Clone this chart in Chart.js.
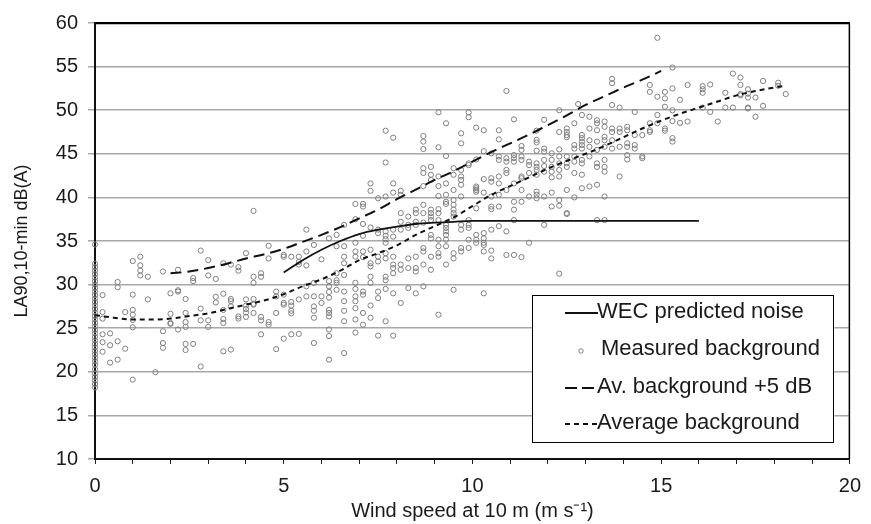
<!DOCTYPE html>
<html><head><meta charset="utf-8">
<script src="https://cdn.jsdelivr.net/npm/chart.js@4.4.1/dist/chart.umd.min.js"></script>
<style>html,body{margin:0;padding:0;background:#fff}canvas{display:block}</style>
</head><body>
<canvas id="c" width="871" height="524"></canvas>
<script>
// ---------- data ----------
const wecWind  = [5, 5.25, 5.5, 6, 6.5, 7, 7.5, 8, 8.5, 9, 9.5, 10, 11, 12, 13, 14, 15, 16];
const wecLevel = [31.4, 32.1, 32.8, 34.0, 35.0, 35.8, 36.3, 36.65, 36.95, 37.1, 37.2, 37.3, 37.3, 37.3, 37.3, 37.3, 37.3, 37.3];

const plus5Wind  = [2, 2.5, 3, 3.5, 4, 4.5, 5, 5.5, 6, 6.5, 7, 7.5, 8, 8.5, 9, 9.5, 10, 10.5, 11, 11.5, 12, 12.5, 13, 13.5, 14, 14.5, 15];
const plus5Level = [31.3, 31.5, 31.9, 32.4, 33.0, 33.5, 34.1, 34.9, 35.7, 36.6, 37.6, 38.6, 39.8, 40.9, 42.0, 43.0, 44.1, 45.2, 46.2, 47.2, 48.3, 49.4, 50.6, 51.6, 52.6, 53.5, 54.5];

const avgWind  = [0, 0.5, 1, 1.5, 2, 2.5, 3, 3.5, 4, 4.5, 5, 5.5, 6, 6.5, 7, 7.5, 8, 8.5, 9, 9.5, 10, 10.5, 11, 11.5, 12, 12.5, 13, 13.5, 14, 14.5, 15, 15.5, 16, 16.5, 17, 17.5, 18, 18.3];
const avgLevel = [26.5, 26.2, 26.0, 26.0, 26.1, 26.4, 26.7, 27.2, 27.7, 28.2, 28.9, 29.8, 30.6, 31.6, 32.8, 33.6, 34.5, 35.7, 36.7, 37.7, 39.0, 40.3, 41.3, 42.3, 43.3, 44.2, 45.0, 45.9, 46.9, 47.9, 48.8, 49.6, 50.3, 51.0, 51.7, 52.2, 52.6, 52.8];

// measured background: [wind speed, LA90]
const measured = [
[0,18.2],[0,18.6],[0,19.0],[0,19.4],[0,19.8],[0,20.3],[0,20.8],[0,21.2],[0,21.6],[0,22.0],[0,22.4],[0,22.8],[0,23.2],[0,23.6],[0,24.0],[0,24.4],[0,24.8],[0,25.2],[0,25.6],[0,26.0],[0,26.4],[0,26.8],[0,27.2],[0,27.6],[0,28.0],[0,28.4],[0,28.8],[0,29.2],[0,29.6],[0,30.0],[0,30.4],[0,30.8],[0,31.2],[0,31.6],[0,32.0],[0,32.4],[0,34.6],
[1.0,32.7],[1.2,33.2],[1.2,32.2],[1.2,31.6],[1.2,31.05],[1.4,30.9],[0.6,30.3],[0.6,29.7],[0.2,28.8],[1.0,28.85],[1.4,28.3],[1.8,31.5],[2.2,31.7],[2.6,30.75],[2.6,30.4],[2.0,29.0],[2.2,29.35],[2.4,28.35],[0.2,26.85],[0.2,26.1],[0.8,26.85],[1.0,27.1],[1.0,26.55],[1.0,25.95],[1.0,25.1],[0.2,24.3],[0.4,24.4],[0.2,23.4],[0.4,23.05],[0.6,23.5],[0.8,22.65],[0.2,22.3],[0.4,21.05],[0.6,21.4],[1.0,19.1],[1.6,19.95],[1.8,24.65],[1.8,23.3],[1.8,22.75],[2.0,26.65],[2.0,25.5],[2.2,24.85],[2.4,26.75],[2.4,25.7],[2.4,25.15],[2.4,23.2],[2.4,22.5],[2.6,23.2],
[2.8,27.25],[2.8,25.9],[2.8,20.6],[3.0,25.9],[3.0,25.15],[3.2,27.95],[3.4,27.1],[3.4,26.05],[3.4,25.6],[3.4,22.35],[3.6,28.1],[3.6,27.5],[3.6,22.55],[3.8,26.35],[3.8,26.1],[4.0,28.3],[4.0,27.6],[4.0,27.2],[4.0,26.8],[4.0,26.3],[4.2,27.8],[4.2,26.75],[4.4,26.3],[4.4,25.9],[4.4,24.3],[4.6,25.7],[4.6,25.4],[4.8,26.75],[4.8,22.6],[5.0,27.7],[5.0,23.8],[5.2,28.0],[5.2,27.6],[5.2,27.0],[5.2,26.7],[5.2,24.3],
[3.0,32.8],[3.0,31.05],[3.2,30.65],[3.4,32.45],[3.6,32.3],[3.8,32.0],[3.8,31.6],[4.0,33.6],[4.2,30.9],[4.2,30.2],[4.4,31.3],[4.4,30.9],[4.6,33.0],[5.0,33.2],[5.0,33.4],[5.2,33.2],[5.4,33.2],[5.4,32.6],[5.4,32.3],[5.6,33.8],[5.6,32.2],[6.0,32.9],[2.8,33.9],
[2.2,29.2],[2.0,25.6],[3.2,28.6],[3.4,28.95],[3.6,28.35],[4.2,28.35],[4.2,27.7],[4.8,29.2],[4.8,28.65],[5.0,28.85],[5.0,27.9],[5.4,28.3],[5.4,24.35],[5.6,29.8],[5.6,28.65],
[5.8,30.2],[5.8,28.65],[5.8,27.5],[5.8,27.0],[5.8,26.2],[5.8,23.3],[6.0,28.65],[6.0,27.9],
[6.2,30.4],[6.2,29.8],[6.2,29.15],[6.2,28.5],[6.2,27.1],[6.2,26.75],[6.2,26.35],[6.2,24.85],[6.2,24.1],[6.2,21.4],
[6.4,31.3],[6.4,30.5],[6.4,30.2],[6.4,29.4],
[6.6,33.2],[6.6,32.45],[6.6,31.1],[6.6,29.2],[6.6,28.1],[6.6,27.0],[6.6,25.8],[6.6,22.15],
[6.9,30.2],[6.9,29.5],[6.9,28.65],[6.9,28.1],[6.9,27.3],[6.9,26.0],[6.9,24.5],
[7.1,29.2],[7.1,28.85],[7.1,26.75],[7.1,25.4],
[7.3,30.9],[7.3,30.2],[7.3,27.6],[7.3,26.2],
[7.5,29.2],[7.5,28.45],[7.5,24.15],
[7.7,30.9],[7.7,30.5],[7.7,29.5],[7.7,25.8],
[7.9,29.0],[7.9,24.15],
[4.2,38.45],[4.6,34.45],[5.6,36.3],[5.8,34.55],[6.2,35.3],[6.4,35.7],[6.4,34.4],[6.6,34.4],[6.9,34.8],[7.1,35.6],[7.3,34.0],
[7.3,41.6],[7.3,40.75],[6.9,39.25],[7.1,39.25],[7.1,38.95],[6.6,36.85],[6.9,37.5],[7.1,36.95],[7.3,36.55],[7.5,36.3],[7.5,35.9],[7.7,36.1],[7.7,35.6],[7.7,35.2],[7.7,34.8],[7.9,36.3],[7.9,35.5],
[6.9,33.8],[6.9,33.2],[7.1,33.8],[7.1,33.15],[7.3,32.45],[7.3,32.1],[7.5,33.2],[7.5,32.65],[7.7,33.6],[7.7,33.0],[7.9,33.2],[7.9,32.3],[7.9,31.9],[7.9,31.3],
[8.1,38.2],[8.1,37.2],[8.1,36.3],[8.3,37.8],[8.3,36.85],[8.3,36.5],[8.5,38.6],[8.5,38.2],[8.5,37.2],[8.5,36.85],[8.7,38.2],[8.7,37.1],[8.9,38.6],[8.9,38.2],[8.9,37.8],[8.9,37.4],[9.1,38.2],[9.1,37.4],[9.3,36.85],[9.3,36.5],[9.3,36.1],[9.3,35.7],[9.5,38.6],[9.5,38.2],[9.5,37.8],[9.7,36.85],[9.7,36.3],[9.9,37.4],[9.9,36.85],[9.9,36.5],[10.1,35.7],[10.1,35.15],[10.3,35.9],[10.3,35.3],[10.3,34.8],[10.5,38.95],[10.5,36.3],[10.5,33.9],[10.7,36.7],[10.9,36.1],[11.1,38.6],[11.1,37.4],[11.5,34.8],[11.9,36.85],[12.3,31.25],[12.5,38.2],
[8.1,32.3],[8.1,31.7],[8.3,33.0],[8.3,31.9],[8.5,33.2],[8.5,31.9],[8.5,31.5],[8.7,34.2],[8.7,33.8],[8.7,32.3],[8.7,29.8],[8.9,35.7],[8.9,35.3],[8.9,33.2],[8.9,31.7],[9.1,35.15],[9.1,34.4],[9.1,33.6],[9.1,33.2],[9.1,26.55],[9.3,35.15],[9.3,34.4],[9.3,32.3],[9.5,33.6],[9.5,33.0],[9.5,29.4],[9.7,34.2],[9.7,33.8],[9.9,35.15],[9.9,34.2],[10.1,34.8],[10.3,34.55],[10.3,33.8],[10.3,29.0],[10.5,33.0],[10.9,33.4],[11.1,33.4],[11.3,33.15],
[8.1,27.9],[8.3,29.6],[8.5,29.0],
[10.9,52.2],[9.1,49.75],[9.9,49.75],[9.9,49.2],[12.3,50.0],[9.3,48.5],[7.7,47.65],[7.9,46.85],[7.7,44.0],[8.7,47.05],[8.7,46.4],[8.7,45.55],[9.1,45.75],[9.3,44.75],[9.7,47.35],[9.7,46.2],[10.1,48.0],[10.3,47.7],[10.7,47.7],[10.7,46.65],[11.1,48.95],[11.9,48.9],[11.7,47.65],[11.7,46.6],[11.7,46.3],[12.3,47.5],[12.5,47.9],[12.5,47.5],[12.5,47.15],[12.5,46.9],[12.7,46.0],[12.7,45.6],[11.3,45.9],[11.3,45.45],[10.3,45.3],[10.5,45.05],[10.7,44.7],[10.7,44.3],[10.9,44.5],[10.9,44.1],[11.1,44.85],[11.1,44.5],[11.1,44.1],[11.3,44.7],[11.3,44.3],[11.5,44.1],[11.5,43.7],[11.5,42.8],[11.7,45.35],[11.7,43.9],[11.7,43.5],[11.7,43.15],[11.7,42.6],[11.9,45.6],[11.9,45.25],[11.9,44.3],[11.9,43.6],[11.9,42.95],[12.1,45.05],[12.1,44.3],[12.1,43.5],[12.1,42.95],[12.1,42.3],[12.3,45.5],[12.3,44.7],[12.3,43.9],[12.3,43.15],[12.3,42.4],[12.5,44.7],[12.5,43.9],[12.5,43.5],[12.7,42.8],
[9.9,43.9],[9.9,43.7],[9.7,43.15],[9.7,42.4],[9.7,42.0],[9.7,41.45],[10.1,44.35],[10.5,41.8],[10.5,42.2],[10.9,43.15],[10.9,42.8],[11.3,42.4],[11.3,42.2],[11.1,41.6],[10.3,42.1],[10.1,41.25],[10.1,41.05],[10.1,40.85],[10.1,40.65],[10.7,42.4],[10.7,41.6],[9.5,43.35],[9.5,42.6],[9.5,40.85],[9.3,41.6],[9.3,40.3],[9.1,42.4],[9.1,41.3],[9.1,40.15],[8.9,43.5],[8.9,42.6],[8.9,42.0],[8.7,43.35],[8.7,42.8],[8.7,41.3],[7.9,41.6],[7.9,40.55],[8.1,40.75],[8.1,40.3],[7.7,40.1],[7.5,39.9],
[10.3,40.55],[10.5,40.1],[10.7,40.3],[10.9,40.85],[11.1,39.5],[11.3,40.85],[11.5,40.1],[11.7,40.65],[11.7,40.3],[11.7,39.9],[11.9,40.1],[12.1,40.55],[12.3,39.7],[12.5,40.85],[12.7,40.0],[9.5,39.7],[9.5,39.15],[9.3,39.5],[9.3,39.25],[8.7,39.15],[9.1,38.65],[9.7,40.1],[10.1,38.75],[10.5,38.65],[10.7,38.95],[11.3,39.5],[12.1,38.95],[12.3,39.05],
[12.7,48.5],[12.7,44.7],[12.7,44.1],
[15.3,54.9],[16.9,54.2],[17.1,53.75],[17.3,52.4],[17.3,51.9],[14.7,52.9],[14.7,52.1],[14.9,51.55],[15.1,52.1],[15.1,51.35],[15.1,50.4],[15.3,52.5],[15.3,50.0],[15.3,48.75],[15.5,51.2],[15.5,48.55],[15.7,52.9],[15.7,48.7],[16.1,52.75],[16.1,52.4],[16.1,52.0],[16.1,50.3],[16.3,52.95],[16.3,49.8],[16.5,48.7],[16.7,52.0],[16.7,50.3],[16.9,50.3],[17.1,51.85],[17.3,50.3],
[12.8,50.7],[13.7,53.6],[13.7,53.1],[13.7,50.6],[13.9,50.3],[14.3,49.8],[14.7,48.5],[14.7,47.7],[14.7,47.5],[14.9,49.45],[14.9,48.5],[15.1,47.9],[15.1,47.65],[15.3,46.8],[15.3,46.4],
[12.9,49.45],[12.9,47.15],[12.9,46.8],[12.9,46.4],[12.9,46.0],[12.9,45.6],[12.9,44.3],[12.9,43.9],[12.9,42.6],[12.9,41.05],
[13.1,49.25],[13.1,47.9],[13.1,46.55],[13.1,45.8],[13.1,44.7],[13.1,41.25],
[13.3,48.85],[13.3,48.5],[13.3,47.7],[13.3,46.4],[13.3,45.45],[13.3,43.9],[13.3,43.5],[13.3,41.45],
[13.5,48.7],[13.5,48.1],[13.5,46.95],[13.5,46.55],[13.5,45.8],[13.5,44.3],[13.5,43.5],[13.5,42.95],[13.5,40.1],
[13.7,47.9],[13.7,47.5],[13.7,46.55],[13.7,45.6],
[13.9,47.9],[13.9,47.5],[13.9,45.8],[13.9,42.4],
[14.1,48.1],[14.1,47.7],[14.1,46.2],[14.1,45.8],[14.1,44.85],[14.1,44.35],
[14.3,47.15],[14.3,46.0],[14.3,45.6],
[14.5,47.15],[14.5,44.7],[14.5,44.5],
[13.3,37.4],[13.5,37.4],[12.5,38.1],
[14.9,58.3],[17.5,51.45],[17.7,53.35],[18.1,53.15],[18.1,52.8],[18.3,51.85],[17.1,52.9],[17.1,51.7],[17.3,51.45],[17.3,50.2],[17.5,49.25],[17.7,50.5]
];

// ---------- chart ----------
const FONT = "'Liberation Sans', Arial, Helvetica, sans-serif";
const toXY = (xs, ys) => xs.map((x, i) => ({x: x, y: ys[i]}));

const frame = {
  id: 'frame',
  afterDatasetsDraw(chart) {
    const {ctx, chartArea: a} = chart;
    ctx.save();
    ctx.strokeStyle = '#000';
    ctx.lineWidth = 1.5;
    ctx.beginPath();
    ctx.moveTo(a.left, a.top + 0.5);
    ctx.lineTo(a.right - 0.5, a.top + 0.5);
    ctx.lineTo(a.right - 0.5, a.bottom);
    ctx.stroke();
    ctx.restore();
  }
};

const boxLegend = {
  id: 'boxLegend',
  afterDraw(chart) {
    const ctx = chart.ctx;
    const ds = chart.data.datasets;
    ctx.save();
    ctx.fillStyle = '#fff';
    ctx.fillRect(532, 295, 301, 147);
    ctx.strokeStyle = '#000';
    ctx.lineWidth = 1;
    ctx.strokeRect(532.5, 295.5, 301, 147);
    ctx.font = '22px ' + FONT;
    ctx.fillStyle = '#1a1a1a';
    ctx.textBaseline = 'middle';
    ctx.textAlign = 'left';
    const order = [0, 3, 1, 2];
    const rows = [312, 349, 387, 423];
    const ends = [598, 0, 594, 598];
    const dashes = [[], [], [12, 5], [5, 4]];
    order.forEach((di, k) => {
      const d = ds[di];
      const y = rows[k];
      if (d.showLine === false) {
        ctx.beginPath();
        ctx.lineWidth = 1;
        ctx.strokeStyle = d.borderColor;
        ctx.arc(581, y + 2, 2.2, 0, Math.PI * 2);
        ctx.stroke();
        ctx.fillText(d.label, 601, y);
      } else {
        ctx.beginPath();
        ctx.lineWidth = d.borderWidth;
        ctx.strokeStyle = d.borderColor;
        ctx.setLineDash(dashes[k]);
        ctx.moveTo(565, y + 1);
        ctx.lineTo(ends[k], y + 1);
        ctx.stroke();
        ctx.setLineDash([]);
        ctx.fillText(d.label, 597, y);
      }
    });
    ctx.restore();
  }
};

new Chart(document.getElementById('c'), {
  type: 'scatter',
  data: {
    datasets: [
      { label: 'WEC predicted noise', data: toXY(wecWind, wecLevel), showLine: true,
        borderColor: '#111', borderWidth: 1.8, pointRadius: 0, cubicInterpolationMode: 'monotone', fill: false },
      { label: 'Av. background +5 dB', data: toXY(plus5Wind, plus5Level), showLine: true,
        borderColor: '#111', borderWidth: 2, borderDash: [11, 6], pointRadius: 0, cubicInterpolationMode: 'monotone', fill: false },
      { label: 'Average background', data: toXY(avgWind, avgLevel), showLine: true,
        borderColor: '#111', borderWidth: 2, borderDash: [5, 4], pointRadius: 0, cubicInterpolationMode: 'monotone', fill: false },
      { label: 'Measured background', data: measured.map(p => ({x: p[0], y: p[1]})), showLine: false,
        clip: 6,
        borderColor: '#7f7f7f', backgroundColor: 'rgba(0,0,0,0)', borderWidth: 1, pointRadius: 2.6, pointHoverRadius: 2.6 }
    ]
  },
  options: {
    responsive: false,
    animation: false,
    devicePixelRatio: 1,
    layout: { padding: { top: 23, right: 13, left: 0, bottom: 0 } },
    plugins: { legend: { display: false }, tooltip: { enabled: false } },
    scales: {
      x: {
        type: 'linear', min: 0, max: 20,
        afterFit(s) { s.height = 65; },
        ticks: { stepSize: 1, autoSkip: false, maxRotation: 0, padding: 10,
          color: '#1a1a1a', font: { family: FONT, size: 20 },
          callback: v => (v % 5 === 0 ? String(v) : '') },
        grid: { drawOnChartArea: false, drawTicks: true, tickLength: 5, tickColor: '#222', tickWidth: 1 },
        border: { display: true, color: '#111', width: 2 },
        title: { display: true, text: 'Wind speed at 10 m (m s\u207B\u00B9)', color: '#1a1a1a',
          font: { family: FONT, size: 20 }, padding: { top: 0, bottom: 1 } }
      },
      y: {
        type: 'linear', min: 10, max: 60,
        afterFit(s) { s.width = 95; },
        ticks: { stepSize: 5, padding: 10, color: '#1a1a1a', font: { family: FONT, size: 20 } },
        grid: { color: ctx => (ctx.tick && ctx.tick.value === 60 ? '#000' : '#a8a8a8'),
          lineWidth: 1.5, tickLength: 7, tickColor: '#a8a8a8', drawTicks: true },
        border: { display: true, color: '#111', width: 2 },
        title: { display: true, text: 'LA90,10-min dB(A)', color: '#1a1a1a',
          font: { family: FONT, size: 18 }, padding: { top: 11, bottom: 0 } }
      }
    }
  },
  plugins: [frame, boxLegend]
});
</script>
</body></html>
